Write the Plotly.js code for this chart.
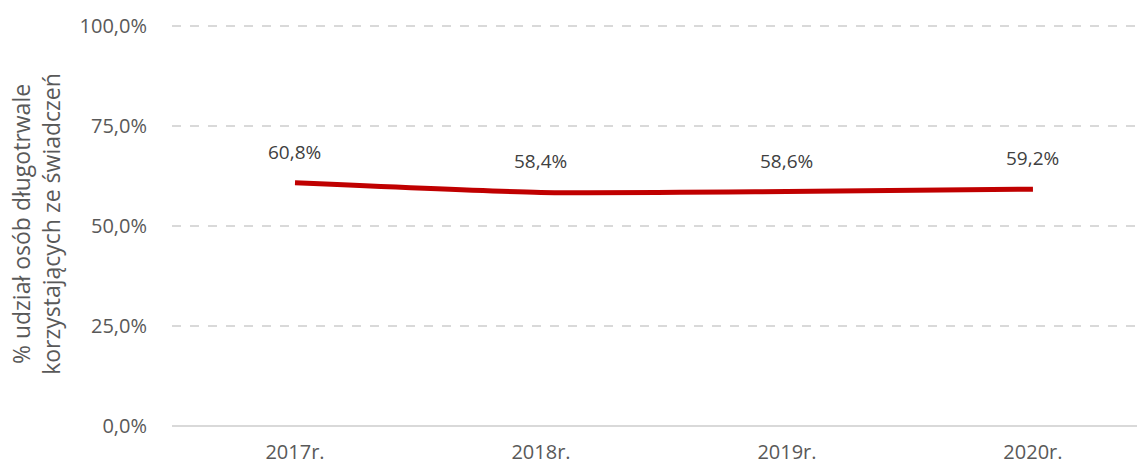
<!DOCTYPE html>
<html><head><meta charset="utf-8">
<script src="https://cdn.plot.ly/plotly-3.0.1.min.js"></script>
<style>html,body{margin:0;padding:0;background:#fff}#c{width:1137px;height:466px}</style>
</head><body><div id="c"></div>
<script>
const categories = ["2017r.", "2018r.", "2019r.", "2020r."];
const values = [0.608, 0.584, 0.586, 0.592];
const labels = ["60,8%", "58,4%", "58,6%", "59,2%"];
const yTicks = [0, 0.25, 0.5, 0.75, 1.0];
const yTickLabels = ["0,0%", "25,0%", "50,0%", "75,0%", "100,0%"];

const trace = {
  x: categories, y: values, type: "scatter", mode: "lines",
  line: {color: "#C00000", width: 5, shape: "spline", smoothing: 0.6},
  hoverinfo: "skip"
};
const annotations = categories.map((c, i) => ({
  x: c, y: values[i], xref: "x", yref: "y", text: labels[i],
  showarrow: false, yshift: 31,
  font: {family: "Open Sans, sans-serif", size: 19, color: "#404040"}
}));
const layout = {
  width: 1137, height: 466,
  margin: {l: 172, r: 0, t: 22, b: 40},
  paper_bgcolor: "#fff", plot_bgcolor: "#fff",
  showlegend: false,
  separators: ", ",
  font: {family: "Open Sans, sans-serif", color: "#595959"},
  annotations: annotations,
  xaxis: {
    type: "category", range: [-0.5, 3.423],
    showgrid: false, zeroline: false,
    showline: false, ticks: "",
    tickfont: {size: 20, color: "#595959"}, ticklabelstandoff: 12
  },
  yaxis: {
    range: [0, 1.01], tickvals: yTicks, ticktext: yTickLabels,
    showgrid: true, gridcolor: "#D9D9D9", griddash: "dash", gridwidth: 1.3,
    zeroline: true, zerolinecolor: "#D9D9D9", zerolinewidth: 1.5,
    ticks: "", tickfont: {size: 20, color: "#595959"}, ticklabelstandoff: 24,
    title: {text: "% udział osób długotrwale<br>korzystających ze świadczeń",
      font: {size: 23, color: "#595959"}, standoff: 12}
  }
};
Plotly.newPlot("c", [trace], layout, {displayModeBar: false, staticPlot: true});
</script></body></html>
